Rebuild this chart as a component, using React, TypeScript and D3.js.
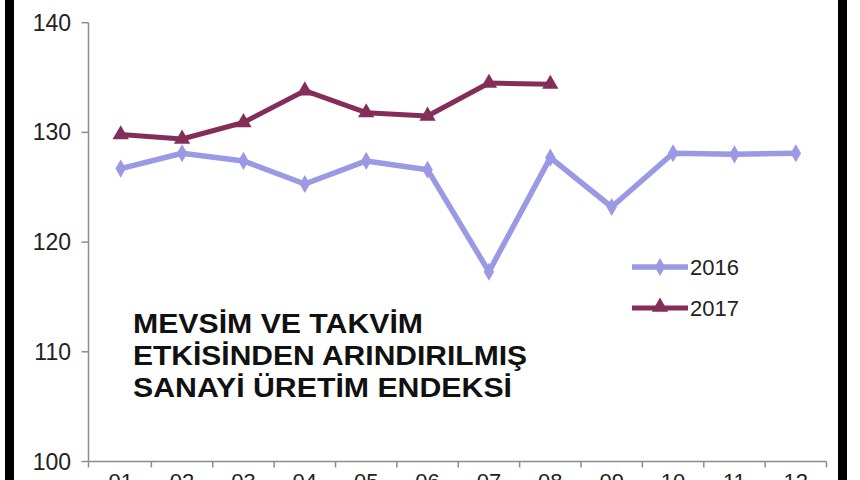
import React from "react";
import * as d3 from "d3";

const months = ["01", "02", "03", "04", "05", "06", "07", "08", "09", "10", "11", "12"];
const values2016 = [126.7, 128.1, 127.4, 125.3, 127.4, 126.6, 117.3, 127.7, 123.2, 128.1, 128.0, 128.1];
const values2017 = [129.8, 129.4, 130.9, 133.8, 131.8, 131.5, 134.5, 134.4];
const yTicks = [100, 110, 120, 130, 140];
const titleLines = ["MEVSİM VE TAKVİM", "ETKİSİNDEN ARINDIRILMIŞ", "SANAYİ ÜRETİM ENDEKSİ"];
const seriesNames = ["2016", "2017"];

const W = 860;
const H = 480;
const C16 = "#9a9ae4";
const C17 = "#852d5a";
const AXIS = "#8c8c8c";
const FONT = "'Liberation Sans', Arial, sans-serif";

export default function App() {
  const x = d3.scaleBand<string>().domain(months).range([90, 826.5]);
  const y = d3.scaleLinear().domain([100, 140]).range([461.5, 22.7]);
  const cx = (i: number) => (x(months[i]) as number) + x.bandwidth() / 2;
  const line = d3
    .line<number>()
    .x((_, i) => cx(i))
    .y((d) => y(d));
  const diamond = d3.symbol().type(d3.symbolDiamond).size(95)() as string;
  const triangle = d3.symbol().type(d3.symbolTriangle).size(115)() as string;
  const titleWidths = [290, 394, 379];
  const x0 = 88.5;
  const xEnd = 826.5;

  return (
    <svg
      width={W}
      height={H}
      style={{ position: "absolute", left: 0, top: 0, background: "#fff" }}
      fontFamily={FONT}
    >
      <rect x={0} y={0} width={W} height={H} fill="#fff" />
      <rect x={5} y={0} width={9} height={H} fill="#000" />
      <rect x={838} y={0} width={9} height={H} fill="#000" />

      {/* y axis */}
      <line x1={x0} x2={x0} y1={y(140)} y2={y(100)} stroke={AXIS} strokeWidth={1.5} />
      {yTicks.map((t) => (
        <g key={t}>
          <line x1={x0 - 7} x2={x0} y1={y(t)} y2={y(t)} stroke={AXIS} strokeWidth={1.5} />
          <text x={71} y={y(t)} dy="0.35em" textAnchor="end" fontSize={23} fill="#222">
            {t}
          </text>
        </g>
      ))}

      {/* x axis */}
      <line x1={x0} x2={xEnd} y1={y(100)} y2={y(100)} stroke={AXIS} strokeWidth={1.5} />
      {months.map((m, i) => (
        <g key={m}>
          <line
            x1={(x(m) as number) + x.step()}
            x2={(x(m) as number) + x.step()}
            y1={y(100)}
            y2={y(100) + 6}
            stroke={AXIS}
            strokeWidth={1.5}
          />
          <text x={cx(i)} y={489} textAnchor="middle" fontSize={22} fill="#222">
            {m}
          </text>
        </g>
      ))}
      <line x1={x0} x2={x0} y1={y(100)} y2={y(100) + 6} stroke={AXIS} strokeWidth={1.5} />

      {/* series 2016 */}
      <path d={line(values2016) as string} fill="none" stroke={C16} strokeWidth={5.5} strokeLinejoin="round" />
      {values2016.map((v, i) => (
        <path key={i} d={diamond} transform={`translate(${cx(i)},${y(v)})`} fill={C16} />
      ))}

      {/* series 2017 */}
      <path d={line(values2017) as string} fill="none" stroke={C17} strokeWidth={5} strokeLinejoin="round" />
      {values2017.map((v, i) => (
        <path key={i} d={triangle} transform={`translate(${cx(i)},${y(v)})`} fill={C17} />
      ))}

      {/* legend */}
      <line x1={632} x2={688} y1={267} y2={267} stroke={C16} strokeWidth={5.5} />
      <path d={diamond} transform="translate(660,267)" fill={C16} />
      <text x={690} y={275} fontSize={22} fill="#222">
        {seriesNames[0]}
      </text>
      <line x1={632} x2={688} y1={308} y2={308} stroke={C17} strokeWidth={5} />
      <path d={triangle} transform="translate(660,307)" fill={C17} />
      <text x={690} y={316} fontSize={22} fill="#222">
        {seriesNames[1]}
      </text>

      {/* title */}
      {titleLines.map((t, i) => (
        <text
          key={t}
          x={133}
          y={333 + i * 32}
          fontSize={27}
          fontWeight="bold"
          fill="#111"
          textLength={titleWidths[i]}
          lengthAdjust="spacingAndGlyphs"
        >
          {t}
        </text>
      ))}
    </svg>
  );
}
